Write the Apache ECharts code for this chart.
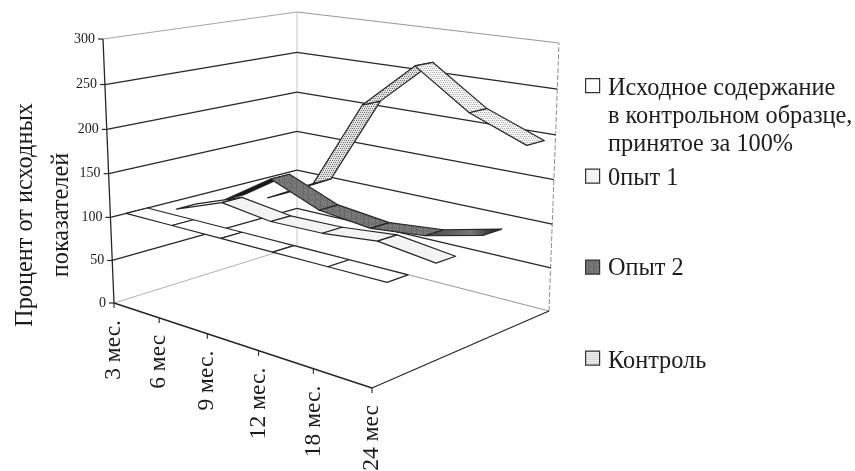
<!DOCTYPE html>
<html><head><meta charset="utf-8">
<script src="https://cdn.jsdelivr.net/npm/echarts@6/dist/echarts.min.js"></script>
<style>html,body{margin:0;padding:0;background:#fff}#c{width:855px;height:471px}#c canvas{filter:blur(.45px)}</style>
</head><body><div id="c"></div>
<script>
// ---------- data ----------
var months = ['3 мес.', '6 мес', '9 мес.', '12 мес.', '18 мес.', '24 мес'];
var yTicks = [0, 50, 100, 150, 200, 250, 300];
var baseline = [100, 100, 100, 100, 100, 100];
var opyt1 = [90, 111, 103, 104, 110, 102];
var opyt2 = [86, 124, 100, 93, 99, 114];
var control = [74, 105, 211, 265, 222, 197];
var seriesNames = ['Исходное содержание\nв контрольном образце,\nпринятое за 100%', '0пыт 1', 'Опыт 2', 'Контроль'];
var yTitle = 'Процент от исходных\nпоказателей';

// ---------- projection of the box ----------
function homography(q) {
  var x0=q[0][0],y0=q[0][1],x1=q[1][0],y1=q[1][1],x2=q[2][0],y2=q[2][1],x3=q[3][0],y3=q[3][1];
  var dx1=x1-x2,dx2=x3-x2,sx=x0-x1+x2-x3,dy1=y1-y2,dy2=y3-y2,sy=y0-y1+y2-y3;
  var det=dx1*dy2-dx2*dy1;
  var g=(sx*dy2-dx2*sy)/det,h=(dx1*sy-sx*dy1)/det;
  var a=x1-x0+g*x1,b=x3-x0+h*x3,d=y1-y0+g*y1,e=y3-y0+h*y3;
  return function(u,v){var w=g*u+h*v+1;return [(a*u+b*v+x0)/w,(d*u+e*v+y0)/w];};
}
var floorH = homography([[114,303],[372,388],[549,311],[297,246]]);
var topH = homography([[103,39],[371,79],[559,43],[297,12]]);
var WC=0.96;
function project(a,b,c){
  var t=WC*c/(1-(1-WC)*c);
  var p=floorH(a,b), q=topH(a,b);
  return [p[0]+(q[0]-p[0])*t, p[1]+(q[1]-p[1])*t];
}
// ---------- textures ----------
function texture(size,base,paint){
  var cv=document.createElement('canvas');cv.width=cv.height=size;
  var x=cv.getContext('2d');x.fillStyle=base;x.fillRect(0,0,size,size);paint(x);
  return {image:cv,repeat:'repeat'};
}
function dots(col,step){return function(x){x.fillStyle=col;
  for(var j=0;j<8;j+=step)for(var i=(j/step)%2?step/2:0;i<8;i+=step)x.fillRect(i,j,1,1);};}
function mottled(x){var pal=['#707070','#7c7c7c','#666666','#868686','#747474'];
  for(var j=0;j<12;j++)for(var i=0;i<12;i++){x.fillStyle=pal[(i*i*3+j*7+i*j)%5];x.fillRect(i,j,1,1);}}
var faceFill=['#ffffff','#f3f3f3',texture(12,'#777',mottled),texture(8,'#f6f6f6',dots('#aaa',2))];
var backFill=['#ffffff','#151515','#151515',texture(8,'#e2e2e2',dots('#777',2))];
var swatchFill=['#ffffff','#f3f3f3',texture(12,'#777',mottled),texture(8,'#f6f6f6',dots('#aaa',2))];
var depthNear=[0.075,0.325,0.585,0.825], depthWidth=0.105;
var INK='#262626';

var chart=echarts.init(document.getElementById('c'),null,{renderer:'canvas'});
var W=855,H=471;
function norm(api,i,v){var p=api.coord([i,v]);return [p[0]/W,1-p[1]/H];}

function ribbon(idx,vals){
  return function(params,api){
    var i=params.dataIndex;
    if(i>=vals.length-1) return {type:'group',children:[]};
    var s=norm(api,i,vals[i]), e=norm(api,i+1,vals[i+1]);
    var b0=depthNear[idx], b1=b0+depthWidth;
    var a=project(s[0],b0,s[1]), b=project(s[0],b1,s[1]), c=project(e[0],b1,e[1]), d=project(e[0],b0,e[1]);
    var cr=(b[0]-a[0])*(d[1]-a[1])-(b[1]-a[1])*(d[0]-a[0]);
    var fill=cr<0?backFill[idx]:faceFill[idx];
    if(idx===2&&i===vals.length-2){fill={type:'linear',x:0,y:0,x2:1,y2:0,colorStops:[{offset:0,color:'#444'},{offset:.6,color:'#777'},{offset:1,color:'#111'}]};}
    return {type:'polygon',shape:{points:[a,b,c,d]},style:{fill:fill,stroke:INK,lineWidth:1.2,lineJoin:'round'}};
  };
}
function line(p,q,col,w,dash){return {type:'line',shape:{x1:p[0],y1:p[1],x2:q[0],y2:q[1]},style:{stroke:col,lineWidth:w,lineDash:dash||null}};}
function txt(x,y,t,size,align,rot){return {type:'text',x:x,y:y,rotation:rot||0,style:{text:t,fill:'#1c1c1c',font:size+'px "Liberation Serif"',align:align,verticalAlign:'middle'}};}

function frame(params,api){
  if(params.dataIndex!==0) return {type:'group',children:[]};
  var kids=[], yMax=300;
  kids.push(line(project(0,1,0),project(0,1,1),'#bdbdbd',.9));
  kids.push(line(project(0,0,1),project(0,1,1),'#9a9a9a',.9));
  kids.push(line(project(0,1,1),project(1,1,1),'#8a8a8a',.9));
  kids.push(line(project(1,1,0),project(1,1,1),'#8f8f8f',1,[5,2]));
  kids.push(line(project(0,0,0),project(0,1,0),'#a8a8a8',.9));
  kids.push(line(project(0,1,0),project(1,1,0),'#8a8a8a',.9));
  yTicks.forEach(function(t){
    var n=norm(api,0,t), c=n[1];
    if(t>0&&t<yMax){
      kids.push(line(project(0,0,c),project(0,1,c),INK,1.3));
      kids.push(line(project(0,1,c),project(1,1,c),INK,1.3));
    }
    var p=project(0,0,c);
    kids.push(line([p[0]-5,p[1]],[p[0],p[1]],INK,1.2));
    kids.push(txt(p[0]-8,p[1],String(t),14,'right'));
  });
  kids.push(line(project(0,0,0),project(0,0,1),INK,1.3));
  kids.push(line(project(0,0,0),project(1,0,0),INK,1.4));
  kids.push(line(project(1,0,0),project(1,1,0),INK,1.3));
  months.forEach(function(m,i){
    var n=norm(api,i,0), p=project(n[0],0,0);
    kids.push(line(p,[p[0],p[1]+5],INK,1.1));
    kids.push(txt(p[0],p[1]+17,m,23.5,'right',Math.PI/2));
  });
  return {type:'group',children:kids};
}

var swY=[85,175.5,266.5,357.5], txtY=[87,177,267,360];
var graphics=[];
seriesNames.forEach(function(nm,i){
  graphics.push({type:'rect',left:585,top:swY[i]-7,shape:{width:14,height:14},style:{fill:swatchFill[i],stroke:'#333',lineWidth:1.2},silent:true});
  nm.split('\n').forEach(function(l,j){
    graphics.push({type:'text',left:608,top:txtY[i]+j*28-10,style:{text:l,fill:'#1c1c1c',font:'24.3px "Liberation Serif"'},silent:true});
  });
});
yTitle.split('\n').forEach(function(l,j){
  graphics.push({type:'text',rotation:Math.PI/2,x:[26,62][j],y:215,style:{text:l,fill:'#1c1c1c',font:'24.3px "Liberation Serif"',align:'center',verticalAlign:'middle'},silent:true});
});

function rows(v){return v.map(function(y,i){return [i,y];});}
var all=[baseline,opyt1,opyt2,control];
var series=[{type:'custom',name:'frame',z:1,silent:true,animation:false,renderItem:frame,data:rows(baseline),encode:{x:0,y:1}}];
[3,2,1,0].forEach(function(k,o){
  series.push({type:'custom',name:seriesNames[k],z:2+o,silent:true,animation:false,renderItem:ribbon(k,all[k]),data:rows(all[k]),encode:{x:0,y:1}});
});
chart.setOption({
  animation:false,backgroundColor:'#fff',
  grid:{left:0,right:0,top:0,bottom:0,containLabel:false},
  xAxis:{type:'category',data:months,boundaryGap:false,show:false},
  yAxis:{type:'value',min:0,max:300,interval:50,show:false},
  graphic:{elements:graphics},
  series:series
});
</script></body></html>
